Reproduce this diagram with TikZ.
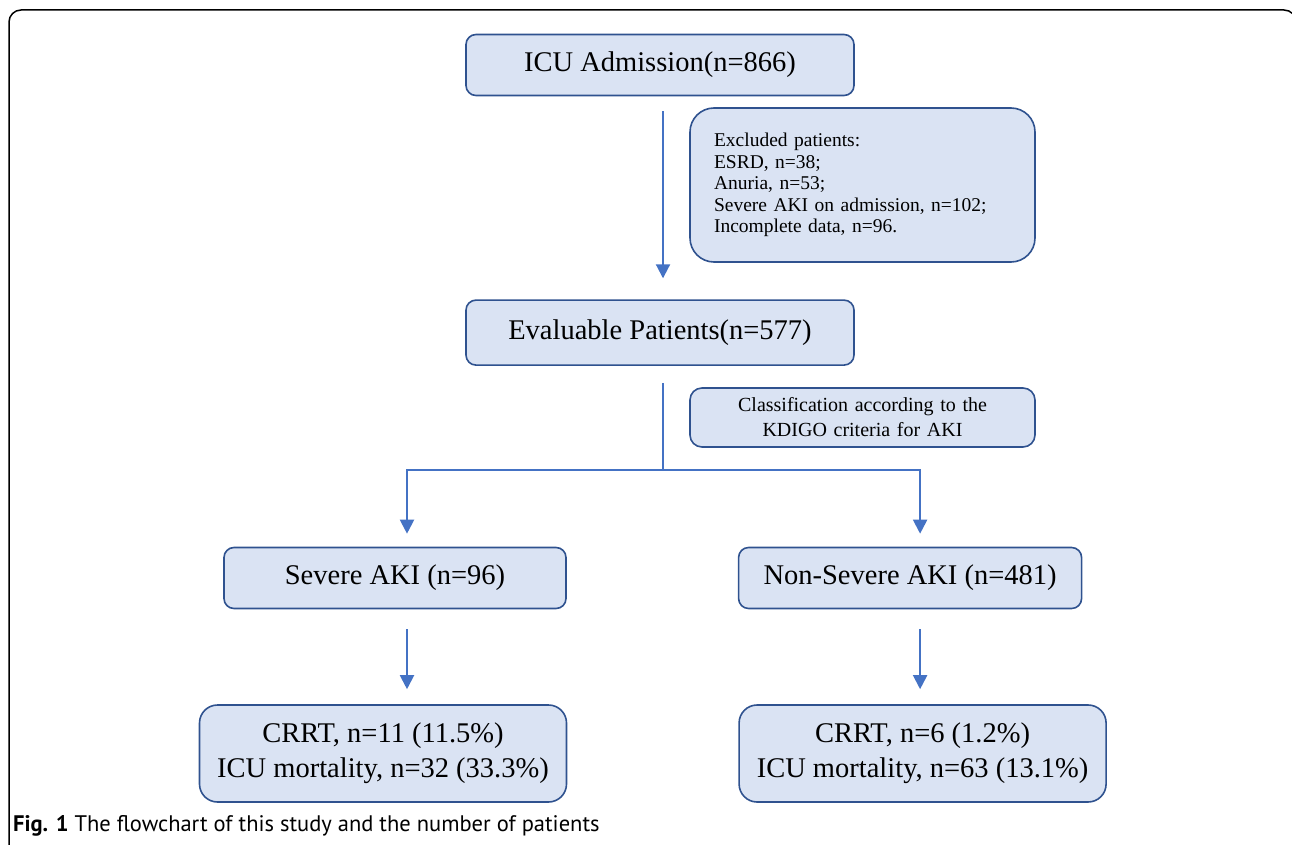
\documentclass[tikz,border=0pt]{standalone}
\usepackage{fontspec}
\setmainfont{Liberation Serif}
\newfontfamily\capfont{PT Sans}
\usetikzlibrary{arrows.meta,positioning}
\definecolor{boxline}{HTML}{2F528F}
\definecolor{boxfill}{HTML}{DAE3F3}
\definecolor{arrowblue}{HTML}{4472C4}

\begin{document}
\begin{tikzpicture}[
  x=1pt, y=-1pt,
  stage/.style={
    draw=boxline,
    fill=boxfill,
    line width=1.6pt,
    rounded corners=10pt,
    minimum height=61pt,
    inner sep=0pt,
    align=center,
    font=\fontsize{28.5}{35}\selectfont
  },
  excluded/.style={stage,rounded corners=24pt,align=left,inner xsep=24pt,
    text width=297pt,minimum height=154pt,font=\fontsize{19.5}{21.5}\selectfont},
  criteria/.style={stage,rounded corners=12pt,text width=345pt,minimum height=59pt,
    font=\fontsize{20}{25}\selectfont},
  outcome/.style={stage,rounded corners=18pt,minimum width=367pt,minimum height=97pt},
  flow/.style={-{Triangle[length=14pt,width=14pt]},draw=arrowblue,line width=2pt},
  trunk/.style={draw=arrowblue,line width=2pt}
]
  \useasboundingbox (0,0) rectangle (1292,845);
  \begin{scope}
    \clip (0,0) rectangle (1292,845);
    \draw[line width=1.5pt,rounded corners=12pt] (9,850) -- (9,10) -- (1296,10) -- (1296,850);
  \end{scope}

  \node[stage,minimum width=388pt] (icu) at (660,65) {ICU Admission(n=866)};
  \node[stage,minimum width=388pt,minimum height=65pt,below=203pt of icu] (eval) {Evaluable Patients(n=577)};
  \node[excluded] (excl) at (862.5,185) {Excluded patients:\\ESRD, n=38;\\Anuria, n=53;\\Severe AKI on admission, n=102;\\Incomplete data, n=96.};
  \node[criteria] (kdigo) at (862.5,417.5) {Classification according to the\\KDIGO criteria for AKI};

  \node[stage,minimum width=342pt] (severe) at (395,578) {Severe AKI (n=96)};
  \node[stage,minimum width=343pt,right=171pt of severe] (nonsevere) {Non-Severe AKI (n=481)};
  \node[outcome] (resSevere) at (383,753.5) {CRRT, n=11 (11.5\%)\\ICU mortality, n=32 (33.3\%)};
  \node[outcome,right=171pt of resSevere] (resNon) {CRRT, n=6 (1.2\%)\\ICU mortality, n=63 (13.1\%)};

  \node[anchor=base west,inner sep=0pt,font=\capfont\fontsize{22.5}{26}\selectfont] (cap) at (13,831)
    {\textbf{Fig. 1} The flowchart of this study and the number of patients};

  \coordinate (split) at (663,470);
  \draw[flow,shorten <=15pt,shorten >=21pt] ([xshift=3pt]icu.south) -- ([xshift=3pt]eval.north);
  \draw[trunk,shorten <=17pt] ([xshift=3pt]eval.south) -- (split);
  \draw[flow,shorten >=13pt] (split) -| ([xshift=12pt]severe.north);
  \draw[flow,shorten >=13pt] (split) -| ([xshift=10pt]nonsevere.north);
  \draw[flow,shorten <=20pt,shorten >=15pt] ([xshift=12pt]severe.south) -- ([xshift=24pt]resSevere.north);
  \draw[flow,shorten <=20pt,shorten >=15pt] ([xshift=10pt]nonsevere.south) -- ([xshift=-2.5pt]resNon.north);
\end{tikzpicture}
\end{document}
